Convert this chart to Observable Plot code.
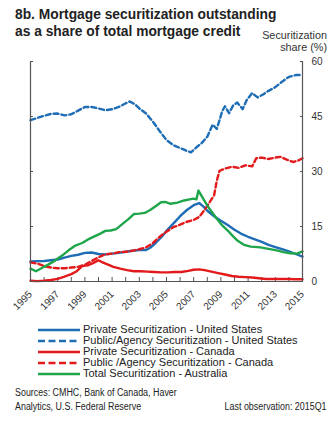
<!DOCTYPE html>
<html><head><meta charset="utf-8">
<script src="https://cdn.jsdelivr.net/npm/d3@7"></script>
<script src="https://cdn.jsdelivr.net/npm/@observablehq/plot@0.6"></script>
<style>
body{margin:0;background:#fff;font-family:"Liberation Sans",Arial,sans-serif;}
#wrap{position:relative;width:336px;height:428px;overflow:hidden;background:#fff;}
.t{position:absolute;white-space:nowrap;}
#plot{position:absolute;left:0;top:0;}
#legend{position:absolute;left:38px;top:324px;font-size:11px;color:#222;}
.row{display:flex;align-items:center;height:11px;line-height:11px;}
.row svg{margin-right:3px;}
.src{font-family:"Liberation Sans Narrow","Arial Narrow","Liberation Sans",Arial,sans-serif;font-size:10px;color:#222;transform:scaleX(0.89);}
</style></head>
<body><div id="wrap">
<div id="plot"></div>
<div class="t" style="left:15px;top:6px;font-weight:bold;font-size:13.8px;line-height:17px;color:#222">8b. Mortgage securitization outstanding<br>as a share of total mortgage credit</div>
<div class="t" style="right:9px;top:29px;font-size:10.8px;line-height:12px;text-align:right;color:#333">Securitization<br>share (%)</div>
<div id="legend"></div>
<div class="t src" style="left:15px;top:386px;line-height:14px;transform-origin:left top">Sources: CMHC, Bank of Canada, Haver<br>Analytics, U.S. Federal Reserve</div>
<div class="t src" style="right:9px;top:400px;line-height:14px;transform-origin:right top">Last observation: 2015Q1</div>
</div>
<script>
const BLUE = "#1f6db5", RED = "#e31a1c", GREEN = "#1fa54a";

const seriesNames = [
  "Private Securitization - United States",
  "Public/Agency Securitization - United States",
  "Private Securitization - Canada",
  "Public /Agency Securitization - Canada",
  "Total Securitization - Australia"
];

const usPrivate = [[1995.0,5.5],[1996.0,5.6],[1997.0,6.0],[1997.5,6.5],[1998.0,7.0],[1998.5,7.3],[1999.0,7.8],[1999.5,7.9],[2000.0,7.5],[2000.5,7.4],[2001.0,7.6],[2001.5,7.8],[2002.0,8.1],[2002.5,8.4],[2003.0,8.6],[2003.5,8.6],[2003.8,9.2],[2004.2,10.5],[2004.6,12.0],[2005.0,13.8],[2005.5,15.8],[2006.0,17.8],[2006.5,19.5],[2007.0,20.8],[2007.4,21.4],[2007.7,20.5],[2008.0,19.3],[2008.5,17.8],[2009.0,16.6],[2009.5,15.4],[2010.0,14.1],[2010.5,13.0],[2011.0,12.2],[2011.5,11.5],[2012.0,10.8],[2012.5,10.0],[2013.0,9.4],[2013.5,8.8],[2014.0,8.2],[2014.5,7.5],[2015.0,6.8]];

const usPublic = [[1995.0,44.0],[1995.5,44.6],[1996.0,45.2],[1996.5,45.7],[1997.0,45.8],[1997.5,45.3],[1998.0,45.6],[1998.5,46.6],[1999.0,47.6],[1999.5,47.6],[2000.0,47.2],[2000.5,46.7],[2001.0,47.0],[2001.5,47.6],[2002.0,48.6],[2002.3,49.1],[2002.7,48.3],[2003.0,47.2],[2003.5,45.8],[2004.0,43.6],[2004.5,41.0],[2005.0,38.6],[2005.5,37.2],[2006.0,36.4],[2006.5,35.6],[2006.8,35.2],[2007.2,36.6],[2007.6,37.8],[2008.0,39.5],[2008.4,42.8],[2008.7,41.6],[2009.1,46.5],[2009.3,47.8],[2009.6,45.9],[2009.9,48.0],[2010.2,48.8],[2010.6,47.0],[2010.9,49.5],[2011.3,51.4],[2011.7,50.2],[2012.1,51.0],[2012.5,52.0],[2013.0,53.0],[2013.5,54.5],[2014.0,55.8],[2014.5,56.3],[2015.0,56.3]];

const caPrivate = [[1995.0,0.2],[1995.5,0.1],[1996.0,0.2],[1996.5,0.4],[1997.0,0.7],[1997.5,1.3],[1998.0,2.0],[1998.4,2.8],[1998.8,4.2],[1999.2,4.4],[1999.6,5.0],[2000.0,5.8],[2000.3,5.2],[2000.7,4.6],[2001.1,4.0],[2001.6,3.5],[2002.1,3.1],[2002.6,2.8],[2003.1,2.8],[2003.6,2.7],[2004.1,2.6],[2004.6,2.5],[2005.1,2.5],[2005.6,2.6],[2006.1,2.6],[2006.6,2.9],[2007.0,3.2],[2007.4,3.3],[2007.8,3.1],[2008.3,2.7],[2008.8,2.3],[2009.3,1.9],[2009.8,1.5],[2010.3,1.3],[2010.8,1.2],[2011.3,1.1],[2011.8,0.9],[2012.3,0.7],[2012.8,0.7],[2013.5,0.7],[2014.0,0.7],[2014.5,0.6],[2015.0,0.6]];

const caPublic = [[1995.0,5.2],[1995.5,4.9],[1996.0,4.2],[1996.5,3.8],[1997.0,3.6],[1997.5,3.6],[1998.0,3.8],[1998.5,4.0],[1999.0,4.6],[1999.5,5.6],[2000.0,6.6],[2000.5,7.4],[2001.0,7.6],[2001.5,8.0],[2002.0,8.1],[2002.5,8.4],[2003.0,8.8],[2003.5,9.3],[2004.0,10.5],[2004.5,12.2],[2005.0,13.6],[2005.5,14.8],[2006.0,15.5],[2006.5,16.3],[2007.0,16.8],[2007.4,17.6],[2007.8,19.5],[2008.2,21.8],[2008.5,23.5],[2008.7,27.5],[2008.9,30.2],[2009.3,30.8],[2009.8,31.3],[2010.3,31.0],[2010.8,31.7],[2011.3,31.4],[2011.6,33.6],[2012.0,33.8],[2012.5,33.4],[2013.0,33.8],[2013.4,34.0],[2013.8,33.3],[2014.3,32.6],[2014.7,33.0],[2015.0,33.6]];

const auTotal = [[1995.0,3.5],[1995.4,2.8],[1995.8,3.6],[1996.3,4.6],[1996.8,5.7],[1997.3,7.0],[1997.8,8.5],[1998.3,9.8],[1998.8,10.5],[1999.2,11.4],[1999.7,12.3],[2000.1,13.0],[2000.5,13.8],[2000.9,13.9],[2001.3,14.3],[2001.7,15.5],[2002.2,17.0],[2002.6,18.4],[2003.0,18.5],[2003.4,18.7],[2003.8,19.5],[2004.2,20.5],[2004.6,21.6],[2004.9,21.7],[2005.3,21.2],[2005.8,21.5],[2006.3,22.1],[2006.7,22.4],[2007.0,22.6],[2007.2,22.4],[2007.35,24.8],[2007.6,23.2],[2008.0,20.7],[2008.4,18.6],[2008.7,17.1],[2009.1,15.3],[2009.5,13.9],[2009.9,12.3],[2010.2,11.2],[2010.7,10.0],[2011.2,9.5],[2011.9,9.3],[2012.5,8.9],[2013.1,8.5],[2013.6,8.0],[2014.1,7.7],[2014.6,7.6],[2015.0,8.2]];

const yTicks = [0, 15, 30, 45, 60];
const yearTicks = d3.range(1995, 2016);
const yearLabels = ["1995","1997","1999","2001","2003","2005","2007","2009","2011","2013","2015"];

const series = [
  {name: seriesNames[0], data: usPrivate, color: BLUE, dash: null},
  {name: seriesNames[1], data: usPublic, color: BLUE, dash: "5,3"},
  {name: seriesNames[2], data: caPrivate, color: RED, dash: null},
  {name: seriesNames[3], data: caPublic, color: RED, dash: "5,3"},
  {name: seriesNames[4], data: auTotal, color: GREEN, dash: null}
];

const AX = "#555";
const chart = Plot.plot({
  width: 336, height: 322,
  marginTop: 61, marginBottom: 41, marginLeft: 30, marginRight: 34,
  style: {fontFamily: '"Liberation Sans", Arial, sans-serif', fontSize: "10px", color: "#333", background: "transparent", overflow: "visible"},
  x: {domain: [1995, 2015]},
  y: {domain: [0, 60]},
  marks: [
    Plot.axisY({anchor: "left", ticks: yTicks, tickSize: -3, tickFormat: () => "", stroke: AX, label: null}),
    Plot.axisY({anchor: "right", ticks: yTicks, tickSize: -3, tickPadding: 12, stroke: AX, label: null, fontSize: 10, fill: "#333"}),
    Plot.axisX({ticks: yearTicks, tickSize: -4, tickFormat: () => "", stroke: AX, label: null}),
    Plot.axisX({ticks: yearLabels.map(Number), tickFormat: d => String(d), tickSize: 0, tickRotate: -45, tickPadding: 11, label: null, fontSize: 10, fill: "#333"}),
    ...series.map(s => Plot.line(s.data, {x: d => d[0], y: d => d[1], stroke: s.color, strokeWidth: 2.4, strokeDasharray: s.dash, strokeLinejoin: "round"})),
    Plot.ruleX([1995, 2015], {stroke: AX, strokeWidth: 1.2}),
    Plot.ruleY([0], {stroke: AX, strokeWidth: 1.2})
  ]
});
document.getElementById("plot").appendChild(chart);

const legend = document.getElementById("legend");
series.forEach(s => {
  const row = document.createElement("div");
  row.className = "row";
  row.innerHTML = `<svg width="42" height="6"><line x1="0" x2="42" y1="3" y2="3" stroke="${s.color}" stroke-width="2.6" ${s.dash ? `stroke-dasharray="7,3.5"` : ""}/></svg><span>${s.name}</span>`;
  legend.appendChild(row);
});
</script>
</body></html>
